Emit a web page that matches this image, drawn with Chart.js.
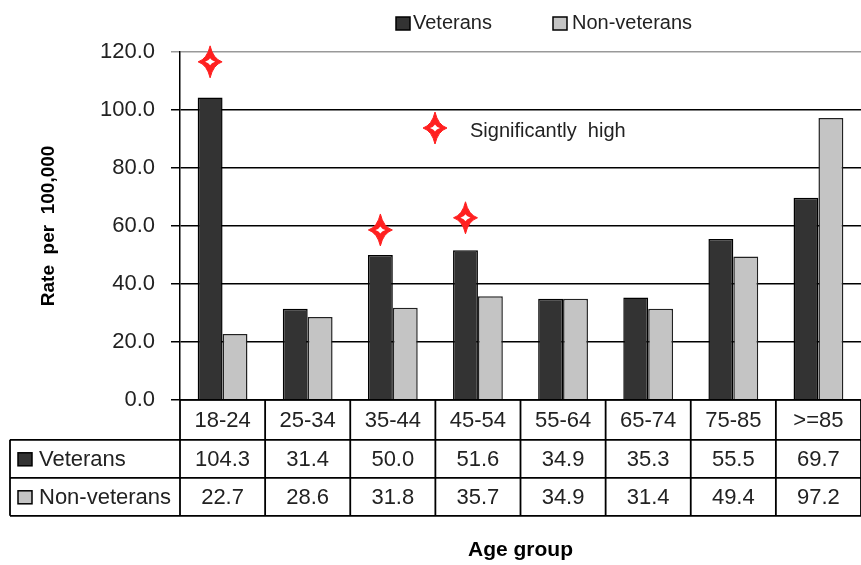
<!DOCTYPE html>
<html>
<head>
<meta charset="utf-8">
<script src="https://cdn.jsdelivr.net/npm/chart.js@4.4.1/dist/chart.umd.min.js"></script>
<style>
  body { margin: 0; background: #fff; }
  #wrap { width: 861px; height: 565px; }
</style>
</head>
<body>
<div id="wrap"><canvas id="chart" width="861" height="565"></canvas></div>
<script>
// data
const ageGroups = ["18-24", "25-34", "35-44", "45-54", "55-64", "65-74", "75-85", ">=85"];
const veterans = [104.3, 31.4, 50.0, 51.6, 34.9, 35.3, 55.5, 69.7];
const nonVeterans = [22.7, 28.6, 31.8, 35.7, 34.9, 31.4, 49.4, 97.2];
// star markers (significantly high), placed over the veterans bar
const sigHigh = [116.6, null, 58.6, 62.8, null, null, null, null];

const FONT = "'Liberation Sans', Arial, sans-serif";
const VET_COLOR = "#333333";
const NON_COLOR = "#c4c4c4";
const TEXT = "#222";

function starPath(ctx, x, y, rx, ry, k) {
  ctx.beginPath();
  ctx.moveTo(x, y - ry);
  ctx.quadraticCurveTo(x + k, y - k, x + rx, y);
  ctx.quadraticCurveTo(x + k, y + k, x, y + ry);
  ctx.quadraticCurveTo(x - k, y + k, x - rx, y);
  ctx.quadraticCurveTo(x - k, y - k, x, y - ry);
  ctx.closePath();
}

function drawStar(ctx, x, y) {
  ctx.save();
  starPath(ctx, x, y, 12, 16, 3);
  ctx.fillStyle = "#ff2020";
  ctx.fill();
  ctx.strokeStyle = "#ff2020";
  ctx.lineWidth = 1;
  ctx.stroke();
  starPath(ctx, x, y, 5, 3.5, 1.2);
  ctx.fillStyle = "#fff";
  ctx.fill();
  ctx.restore();
}

function legendBox(ctx, x, y, color) {
  ctx.fillStyle = color;
  ctx.fillRect(x, y, 14, 13);
  ctx.strokeStyle = "#000";
  ctx.lineWidth = 1.5;
  ctx.strokeRect(x, y, 14, 13);
}

// legend, stars and the data table under the plot
const extras = {
  id: "extras",
  afterDatasetsDraw(chart) {
    const ctx = chart.ctx;
    const y = chart.scales.y;
    const vetMeta = chart.getDatasetMeta(0);
    sigHigh.forEach((v, i) => {
      if (v == null) return;
      drawStar(ctx, vetMeta.data[i].x, y.getPixelForValue(v));
    });
  },
  afterDraw(chart) {
    const ctx = chart.ctx;
    const x = chart.scales.x;
    const area = chart.chartArea;
    const half = (x.getPixelForValue(1) - x.getPixelForValue(0)) / 2;

    ctx.save();
    // top legend
    ctx.font = "20px " + FONT;
    ctx.textBaseline = "middle";
    legendBox(ctx, 396, 17, VET_COLOR);
    ctx.fillStyle = TEXT;
    ctx.fillText("Veterans", 413, 23);
    legendBox(ctx, 553, 17, NON_COLOR);
    ctx.fillStyle = TEXT;
    ctx.fillText("Non-veterans", 572, 23);

    // significance key
    drawStar(ctx, 435, 128);
    ctx.fillStyle = TEXT;
    ctx.fillText("Significantly  high", 470, 131);

    // table
    const top = area.bottom, r1 = top + 40, r2 = r1 + 38, r3 = r2 + 38;
    const left = 10, right = chart.width + 2;
    ctx.strokeStyle = "#000";
    ctx.lineWidth = 1.8;
    ctx.beginPath();
    ctx.moveTo(area.left, top); ctx.lineTo(right, top);
    [r1, r2, r3].forEach(yy => { ctx.moveTo(left, yy); ctx.lineTo(right, yy); });
    ctx.moveTo(left, r1); ctx.lineTo(left, r3);
    ctx.moveTo(area.left, top); ctx.lineTo(area.left, r3);
    ageGroups.forEach((g, i) => {
      const bx = x.getPixelForValue(i) + half;
      ctx.moveTo(bx, top); ctx.lineTo(bx, r3);
    });
    ctx.stroke();

    ctx.font = "22px " + FONT;
    ctx.fillStyle = TEXT;
    ctx.textAlign = "center";
    ageGroups.forEach((g, i) => {
      const cx = x.getPixelForValue(i);
      ctx.fillText(g, cx, (top + r1) / 2 + 1);
      ctx.fillText(veterans[i].toFixed(1), cx, (r1 + r2) / 2 + 1);
      ctx.fillText(nonVeterans[i].toFixed(1), cx, (r2 + r3) / 2 + 1);
    });

    ctx.textAlign = "left";
    legendBox(ctx, 18, (r1 + r2) / 2 - 6, VET_COLOR);
    legendBox(ctx, 18, (r2 + r3) / 2 - 6, NON_COLOR);
    ctx.fillStyle = TEXT;
    ctx.fillText("Veterans", 39, (r1 + r2) / 2 + 1);
    ctx.fillText("Non-veterans", 39, (r2 + r3) / 2 + 1);
    ctx.restore();
  }
};

new Chart(document.getElementById("chart"), {
  type: "bar",
  data: {
    labels: ageGroups,
    datasets: [
      {
        label: "Veterans",
        data: veterans,
        backgroundColor: VET_COLOR,
        borderColor: "#000",
        borderWidth: 1.5,
      },
      {
        label: "Non-veterans",
        data: nonVeterans,
        backgroundColor: NON_COLOR,
        borderColor: "#222",
        borderWidth: 1.5,
      },
    ],
  },
  options: {
    responsive: false,
    animation: false,
    layout: { padding: { top: 52, left: 0, right: -2, bottom: 0 } },
    datasets: { bar: { categoryPercentage: 0.585, barPercentage: 1 } },
    plugins: {
      legend: { display: false },
      tooltip: { enabled: false },
    },
    scales: {
      x: {
        grid: { display: false, drawTicks: false },
        border: { display: false },
        ticks: { display: false },
        title: {
          display: true,
          text: "Age group",
          color: "#000",
          font: { family: FONT, size: 21, weight: "bold" },
          padding: { top: 138, bottom: 2 },
        },
      },
      y: {
        min: 0,
        max: 120,
        afterFit: (scale) => { scale.width = 180; },
        ticks: {
          stepSize: 20,
          padding: 16,
          color: TEXT,
          font: { family: FONT, size: 22 },
          callback: (v) => v.toFixed(1),
        },
        grid: {
          tickLength: 9,
          lineWidth: 1.5,
          color: (c) => (c.tick && c.tick.value === 120 ? "#999" : "#000"),
        },
        border: { color: "#000", width: 1.5 },
        title: {
          display: true,
          text: "Rate  per  100,000",
          color: "#000",
          font: { family: FONT, size: 19, weight: "bold" },
          padding: { top: 37, bottom: 0 },
        },
      },
    },
  },
  plugins: [extras],
});
</script>
</body>
</html>
